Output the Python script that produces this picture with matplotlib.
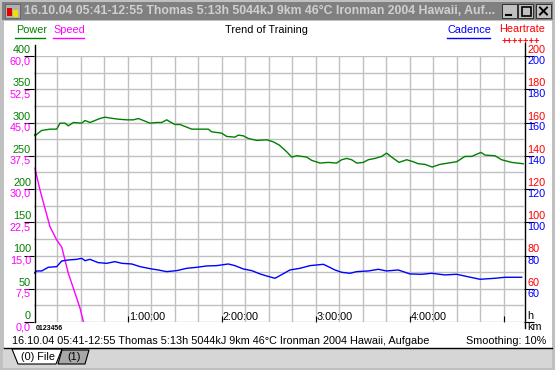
import matplotlib
matplotlib.use('Agg')
import matplotlib.pyplot as plt
from matplotlib.patches import Rectangle, Polygon
from matplotlib.lines import Line2D
from matplotlib.transforms import blended_transform_factory, offset_copy
import numpy as np

plt.rcParams['font.family'] = ['Liberation Sans', 'DejaVu Sans']

# ---- data (time in minutes) ----
power_t = [0, 0.6, 2.7, 4.9, 10.2, 14.5, 16.6, 19.8, 21.9, 25.1, 30.4, 32.6, 35.7, 42.1, 45.3,
           50.6, 53.8, 59.2, 63.4, 66.6, 70.9, 74.0, 78.3, 81.5, 84.7, 86.8, 90.0, 93.2, 97.5,
           100.7, 111.3, 113.4, 119.8, 123.0, 128.3, 130.4, 133.6, 136.8, 142.2, 148.5, 152.7,
           156.6, 161.3, 164.5, 167.7, 174.1, 177.3, 182.6, 187.9, 193.2, 196.4, 199.6, 202.8,
           206.0, 210.2, 213.4, 217.7, 221.9, 225.1, 228.3, 233.0, 237.9, 242.1, 245.3, 249.6,
           254.2, 259.1, 264.4, 269.8, 275.1, 279.4, 285.3, 287.9, 294.3, 298.5, 304.9, 312.3]
power_w = [282, 280, 284, 288, 290, 290, 299, 299, 295, 300, 299, 303, 300, 306, 308,
           306, 305, 304, 304, 306, 302, 299, 300, 300, 304, 301, 297, 297, 293,
           290, 290, 286, 284, 279, 278, 281, 280, 276, 273, 274, 271,
           266, 256, 248, 250, 248, 243, 239, 240, 239, 244, 246, 244,
           239, 240, 244, 246, 249, 254, 248, 240, 244, 241, 238, 237,
           233, 237, 239, 241, 249, 249, 255, 251, 250, 244, 240, 238]

cad_t = [0, 1.7, 4.9, 9.1, 14.5, 17.7, 21.9, 27.3, 30.4, 32.6, 35.7, 41.0, 46.4, 51.7, 56.0,
         62.4, 67.7, 75.1, 79.3, 84.7, 91.1, 97.5, 103.9, 110.2, 116.6, 124.0, 128.3, 133.6,
         139.0, 144.3, 148.5, 152.7, 153.8, 156.6, 163.4, 169.8, 176.2, 184.7, 187.9, 192.1,
         196.4, 201.7, 206.0, 213.4, 219.8, 225.1, 232.5, 240.0, 247.5, 253.9, 262.3, 269.8,
         277.2, 284.7, 294.3, 300.6, 311.3]
cad_rpm = [69.3, 70.7, 70.7, 72.9, 73.3, 76.7, 77.3, 77.7, 78.3, 76.9, 77.7, 75.7, 75.3, 76.3, 75.3,
           74.9, 73.3, 71.9, 71.3, 70.3, 70.9, 72.3, 72.9, 73.7, 73.9, 74.9, 73.9, 71.9,
           70.9, 68.9, 67.7, 66.6, 66.3, 67.7, 71.3, 72.3, 73.9, 74.7, 73.3, 71.3,
           69.9, 69.3, 70.3, 70.7, 71.7, 70.7, 71.3, 68.9, 68.7, 69.3, 68.3, 68.7,
           67.2, 65.7, 66.3, 66.9, 66.9]

speed_t = [0.6, 3.8, 10.2, 14.5, 17.7, 21.9, 26.2, 29.4, 31.5]
speed_kmh = [34.7, 29.8, 21.5, 18.5, 16.9, 11.0, 6.5, 3.1, 0.1]

power_ticks = [0, 50, 100, 150, 200, 250, 300, 350, 400]
speed_ticks = [0, 7.5, 15, 22.5, 30, 37.5, 45, 52.5, 60]
rate_ticks = [60, 80, 100, 120, 140, 160, 180, 200]
hour_ticks = [60, 120, 180, 240, 300]
hour_labels = ['1:00:00', '2:00:00', '3:00:00', '4:00:00', '']
duration = 312.8

title_text = '16.10.04 05:41-12:55 Thomas 5:13h 5044kJ 9km 46°C Ironman 2004 Hawaii, Auf...'
status_text = '16.10.04 05:41-12:55 Thomas 5:13h 5044kJ 9km 46°C Ironman 2004 Hawaii, Aufgabe'

GREEN = '#008000'
MAGENTA = '#ff00ff'
BLUE = '#0000ff'
RED = '#ff0000'
GRID = '#c0c0c0'
FS = 7.8

W, H = 555, 370
fig = plt.figure(figsize=(W / 100, H / 100), dpi=100, facecolor='#c0c0c0')


def fx(px):
    return px / W


def fy(py):
    return 1 - py / H


def frect(x0, y0, x1, y1, **kw):
    kw.setdefault('zorder', -5)
    fig.add_artist(Rectangle((fx(x0), fy(y1)), fx(x1) - fx(x0), fy(y0) - fy(y1),
                             transform=fig.transFigure, **kw))


def fline(xs, ys, **kw):
    fig.add_artist(Line2D([fx(v) for v in xs], [fy(v) for v in ys],
                          transform=fig.transFigure, **kw))


def ftext(x, y, s, **kw):
    fig.text(fx(x), fy(y), s, **kw)


# window chrome
frect(2, 2, 553, 20, facecolor='#808080', edgecolor='none')
frect(4, 21, 552, 348, facecolor='white', edgecolor='none')
frect(3, 349, 552, 368, facecolor='#d6d6d6', edgecolor='none', hatch='....', linewidth=0)
fline([4, 552], [348, 348], color='black', lw=1)

# icon
frect(5, 4, 20, 18, facecolor='#b0b0b0', edgecolor='#606060', lw=0.6, zorder=2)
frect(7, 8, 12, 16, facecolor='#e00000', edgecolor='none', zorder=2)
frect(13, 10, 18, 17, facecolor='#f0e000', edgecolor='none', zorder=2)
ftext(24, 11.5, title_text, color='#d0d0d0', fontsize=8.8, fontweight='bold', va='center')

# title buttons
for bx in (502, 518, 536):
    frect(bx, 4, bx + 15, 18, facecolor='#c0c0c0', edgecolor='#303030', lw=0.7, zorder=2)
fline([506, 511], [15, 15], color='black', lw=1.5)
frect(521.5, 6.5, 530.5, 15.5, facecolor='none', edgecolor='black', lw=1.2, zorder=3)
fline([540, 547], [7.5, 14.5], color='black', lw=1.4)
fline([540, 547], [14.5, 7.5], color='black', lw=1.4)

# tabs
fig.add_artist(Polygon([(fx(62), fy(350)), (fx(89), fy(350)), (fx(85), fy(364)), (fx(58), fy(364))],
                       closed=True, transform=fig.transFigure, facecolor='#a8a8a8',
                       edgecolor='black', lw=0.8))
fig.add_artist(Polygon([(fx(12), fy(349)), (fx(62), fy(349)), (fx(56), fy(364)), (fx(18), fy(364))],
                       closed=True, transform=fig.transFigure, facecolor='white',
                       edgecolor='black', lw=0.8))
ftext(21, 357, '(0) File', fontsize=FS, va='center')
ftext(67, 357, '(1)', fontsize=FS, va='center')

# header legend
ftext(16, 30, 'Power', color=GREEN, fontsize=FS, va='center')
fline([15, 45], [38, 38], color=GREEN, lw=1)
ftext(53, 30, 'Speed', color=MAGENTA, fontsize=FS, va='center')
fline([53, 84], [38, 38], color=MAGENTA, lw=1)
ftext(266, 30, 'Trend of Training', color='black', fontsize=FS, va='center', ha='center')
ftext(447, 30, 'Cadence', color=BLUE, fontsize=FS, va='center')
fline([447, 490], [38, 38], color=BLUE, lw=1)
ftext(499, 29, 'Heartrate', color=RED, fontsize=FS, va='center')
ftext(521, 41.5, '+++++++', color=RED, fontsize=6.8, fontweight='bold', va='center', ha='center')

# status line
ftext(12, 341, status_text, fontsize=FS, va='center')
ftext(546, 341, 'Smoothing: 10%', fontsize=FS, va='center', ha='right')

# ---- plot area ----
ax = fig.add_axes([fx(34), fy(322), fx(524) - fx(34), fy(56) - fy(322)])
ax.set_facecolor('none')
ax.set_xlim(0, duration)
ax.set_ylim(0, 400)
ax.set_xticks(hour_ticks)
ax.set_xticks(np.arange(15, duration, 15), minor=True)
ax.set_yticks(power_ticks)
ax.set_yticks(np.arange(25, 400, 50), minor=True)
ax.grid(True, which='both', color=GRID, lw=1)
ax.tick_params(axis='y', which='major', direction='out', length=7.2, width=0.8, color='black',
               labelleft=False)
ax.tick_params(axis='x', which='major', direction='in', length=4.3, width=0.8, color='black',
               labelbottom=False)
ax.tick_params(which='minor', length=0)
for s in ax.spines.values():
    s.set_visible(False)
ax.plot(power_t, power_w, color=GREEN, lw=1)

ax_spd = ax.twinx()
ax_spd.set_ylim(0, 60)
ax_spd.set_yticks([])
ax_spd.plot(speed_t, speed_kmh, color=MAGENTA, lw=1)

ax_rt = ax.twinx()
ax_rt.set_ylim(40, 200)
ax_rt.set_yticks([40] + rate_ticks)
ax_rt.tick_params(axis='y', direction='out', length=7.2, width=0.8, color='black', labelright=False)
ax_rt.plot(cad_t, cad_rpm, color=BLUE, lw=1)
for a in (ax_spd, ax_rt):
    for s in a.spines.values():
        s.set_visible(False)

# axis lines
fline([34.5, 34.5], [45, 322], color='black', lw=1)
fline([524.5, 524.5], [43, 328], color='black', lw=1)

# tick labels
lt = blended_transform_factory(ax.transAxes, ax.transData)
for v in power_ticks:
    ax.text(0, v, str(v), transform=offset_copy(lt, fig=fig, x=-3, y=3, units='dots'),
            ha='right', va='baseline', color=GREEN, fontsize=FS)
st = blended_transform_factory(ax_spd.transAxes, ax_spd.transData)
for v in speed_ticks:
    ax_spd.text(0, v, f'{v:.1f}'.replace('.', ','),
                transform=offset_copy(st, fig=fig, x=-3, y=0, units='dots'),
                ha='right', va='top', color=MAGENTA, fontsize=FS)
rt = blended_transform_factory(ax_rt.transAxes, ax_rt.transData)
for v in rate_ticks:
    ax_rt.text(1, v, str(v), transform=offset_copy(rt, fig=fig, x=3, y=3, units='dots'),
               ha='left', va='baseline', color=RED, fontsize=FS)
    ax_rt.text(1, v, str(v), transform=offset_copy(rt, fig=fig, x=3, y=0, units='dots'),
               ha='left', va='top', color=BLUE, fontsize=FS)
ax_rt.text(1, 40, 'h', transform=offset_copy(rt, fig=fig, x=3, y=3, units='dots'),
           ha='left', va='baseline', fontsize=FS)
ax_rt.text(1, 40, 'km', transform=offset_copy(rt, fig=fig, x=3, y=0, units='dots'),
           ha='left', va='top', fontsize=FS)
for t, lab in zip(hour_ticks, hour_labels):
    ax.text(t, 0, lab, transform=offset_copy(ax.transData, fig=fig, x=1, y=2, units='dots'),
            ha='left', va='baseline', fontsize=FS)

# squashed km markers under the start
ftext(36, 328.5, '0123456', fontsize=5, fontweight='bold', va='center')

fig.savefig('out.png', dpi=100, facecolor=fig.get_facecolor())
